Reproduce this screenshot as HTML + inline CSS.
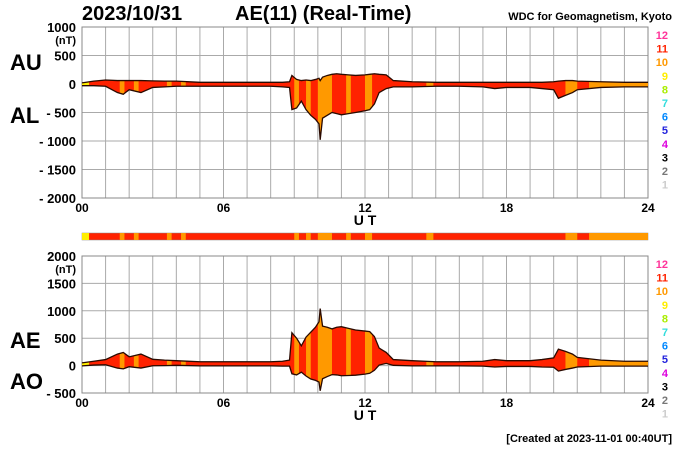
<!DOCTYPE html>
<html><head><meta charset="utf-8"><style>
html,body{margin:0;padding:0;background:#fff;}
svg{display:block;font-family:"Liberation Sans",Arial,sans-serif;}
</style></head><body>
<svg id="c" width="700" height="450"></svg>
<script>
const hours=[0,0.5,1,1.5,1.75,2,2.5,3,3.5,4,5,6,7,8,8.5,8.8,8.9,9.1,9.3,9.5,9.7,9.9,10.05,10.1,10.2,10.4,10.6,10.8,11,11.3,11.6,12,12.2,12.4,12.6,12.9,13.2,14,15,16,17,17.5,18,19,19.5,20,20.2,20.5,20.8,21,22,23,24];
const auValues=[20,50,70,60,60,60,60,55,50,50,30,30,30,30,30,40,150,80,60,70,60,80,100,60,120,150,170,180,170,160,150,160,170,180,170,160,60,40,30,30,30,30,30,30,30,40,50,60,60,50,40,30,30];
const alValues=[-30,-30,-40,-150,-180,-100,-150,-60,-50,-40,-40,-40,-40,-40,-50,-60,-450,-420,-300,-450,-550,-620,-700,-980,-600,-550,-500,-520,-540,-520,-500,-470,-450,-350,-150,-80,-50,-50,-40,-40,-50,-80,-60,-60,-80,-100,-250,-200,-150,-100,-60,-50,-50];
const bandStart=[0,1.6,2.2,3.6,4.2,9.0,9.5,10.0,11.2,12.0,14.6,20.5,21.5];
const bandEnd=[0.3,1.8,2.4,3.8,4.4,9.2,9.7,10.6,11.4,12.3,14.9,21.0,24];
const bandLevel=[9,10,10,10,10,10,10,10,10,10,10,10,10];
const topTicks=[1000,500,0,-500,-1000,-1500,-2000];
const botTicks=[2000,1500,1000,500,0,-500];
const xTickLabels=["00","06","12","18","24"];
const levelLabels=[12,11,10,9,8,7,6,5,4,3,2,1];
const levelColors={12:"#ff3399",11:"#ff2200",10:"#ff9900",9:"#ffee00",8:"#aaee00",7:"#33dddd",6:"#0088ff",5:"#2222dd",4:"#dd00dd",3:"#000",2:"#777",1:"#ccc"};

const NS="http://www.w3.org/2000/svg";
const svg=document.getElementById('c');
function mk(tag,attrs,parent){const e=document.createElementNS(NS,tag);for(const k in attrs)e.setAttribute(k,attrs[k]);(parent||svg).appendChild(e);return e;}
const X0=82,X1=648;
const xs=h=>X0+(X1-X0)*h/24;
function text(x,y,s,size,anchor,name,fill,weight){const t=mk('text',{x:x,y:y,'font-size':size,'text-anchor':anchor||'start','font-weight':weight||'bold',fill:fill||'#000'});t.textContent=s;return t;}

function panel(id,yTop,yBot,vmax,vmin,ticks,upper,lower,lab1,lab2,lab1y,lab2y,xlabY){
  const ys=v=>yTop+(vmax-v)/(vmax-vmin)*(yBot-yTop);
  const g=mk('g',{});
  
  
  for(let h=0;h<=24;h++){const l=mk('line',{x1:xs(h),x2:xs(h),y1:yTop,y2:yBot,stroke:'#aaa','stroke-width':1},g);}
  ticks.forEach(v=>{const l=mk('line',{x1:X0,x2:X1,y1:ys(v),y2:ys(v),stroke:'#aaa','stroke-width':1},g);
    const lbl=(v<0?'- '+(-v):String(v));text(76,ys(v)+5,lbl,13,'end','y-tick-label');});
  text(76,ys(ticks[0])+17,'(nT)',11,'end','y-unit');
  mk('rect',{x:X0,y:yTop,width:X1-X0,height:yBot-yTop,fill:'none',stroke:'#888'},g);
  let d='M'+hours.map((h,i)=>xs(h)+','+ys(upper[i])).join('L');
  for(let i=hours.length-1;i>=0;i--)d+='L'+xs(hours[i])+','+ys(lower[i]);d+='Z';
  const cp=mk('clipPath',{id:'clip-'+id},g);mk('path',{d:d},cp);
  const area=mk('path',{d:d,fill:levelColors[11]},g);
  
  bandStart.forEach((s,i)=>{const r=mk('rect',{x:xs(s),y:yTop,width:xs(bandEnd[i])-xs(s),height:yBot-yTop,fill:levelColors[bandLevel[i]],'clip-path':'url(#clip-'+id+')'},g);});
  [upper,lower].forEach((arr,k)=>{const p=mk('polyline',{points:hours.map((h,i)=>xs(h)+','+ys(arr[i])).join(' '),fill:'none',stroke:'#2a0a00','stroke-width':1.3},g);});
  xTickLabels.forEach((s,i)=>text(xs(i*6),xlabY,s,12,'middle','x-tick-label'));
  text(365,xlabY+13,'U T',14,'middle','x-axis-title');
  text(10,lab1y,lab1,22,'start','series-label-'+lab1.toLowerCase());
  text(10,lab2y,lab2,22,'start','series-label-'+lab2.toLowerCase());
  levelLabels.forEach((n,i)=>text(668,yTop+12+i*13.6,String(n),11,'end','station-count-legend',levelColors[n]));
}
text(82,20,'2023/10/31',20,'start','date-title');
text(235,20,'AE(11) (Real-Time)',20,'start','chart-title');
text(672,20,'WDC for Geomagnetism, Kyoto',11,'end','source-label');
panel('top',27,198,1000,-2000,topTicks,auValues,alValues,'AU','AL',70,123,212);
const aeValues=auValues.map((u,i)=>u-alValues[i]);
const aoValues=auValues.map((u,i)=>(u+alValues[i])/2);
panel('bottom',256,393,2000,-500,botTicks,aeValues,aoValues,'AE','AO',348,389,407);
const bar=mk('rect',{x:X0,y:233,width:X1-X0,height:7,fill:levelColors[11],stroke:'#888','stroke-width':0.5});

bandStart.forEach((s,i)=>{const r=mk('rect',{x:xs(s),y:233,width:xs(bandEnd[i])-xs(s),height:7,fill:levelColors[bandLevel[i]]});});
text(672,442,'[Created at 2023-11-01 00:40UT]',11,'end','created-label');
</script>
</body></html>
